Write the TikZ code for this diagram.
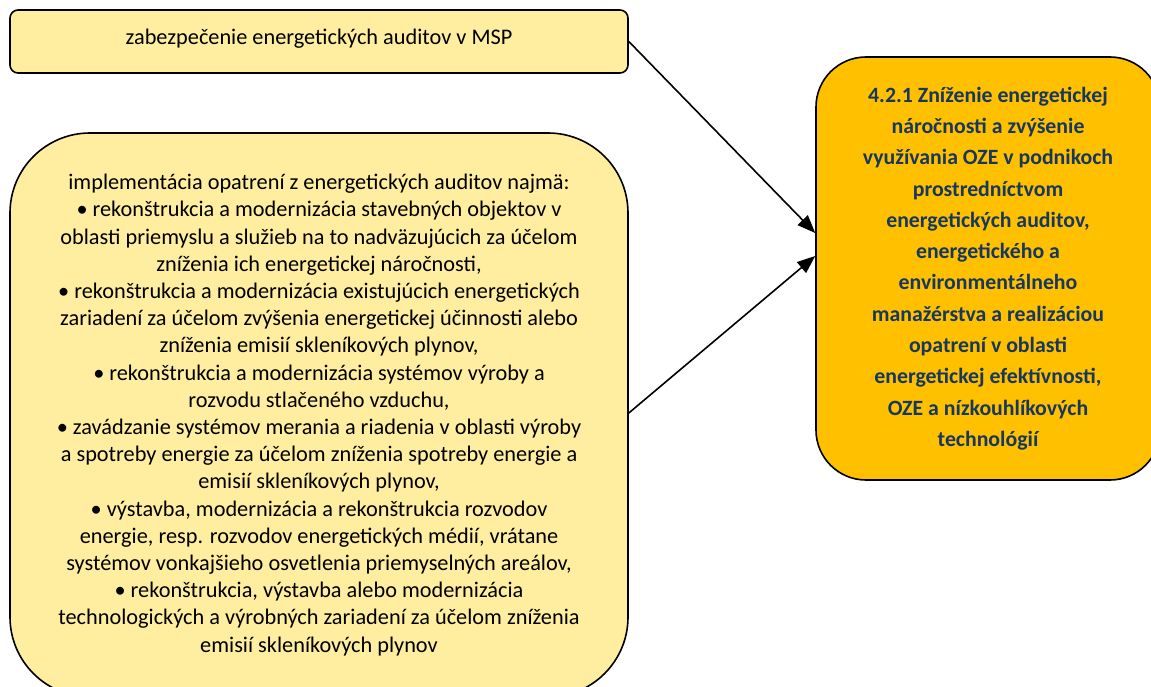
\documentclass[tikz,border=0pt]{standalone}
\usepackage{fontspec}
\setmainfont{Carlito}
\usetikzlibrary{arrows.meta}
\definecolor{paleyellow}{HTML}{FFEDA0}
\definecolor{goldfill}{HTML}{FFC000}
\definecolor{navytext}{HTML}{17375E}
\begin{document}
\begin{tikzpicture}[x=1pt,y=-1pt,
  box/.style={draw=black, line width=1.6pt, align=center, inner sep=0pt},
  inputbox/.style={box, fill=paleyellow, font=\fontsize{22.3}{27.2}\selectfont},
  goalbox/.style={box, fill=goldfill, text=navytext,
    font=\bfseries\fontsize{21.8}{31.3}\selectfont, rounded corners=50pt},
  arr/.style={line width=1.6pt, -{Triangle[length=18pt,width=14pt]}}]
\useasboundingbox (0,0) rectangle (1151,687);
\begin{scope}
\clip (0,0) rectangle (1151,687);

% inputs
\node[inputbox, rounded corners=8pt, minimum width=618pt, minimum height=63pt,
      text depth=9pt]
  (audit) at (319,41.5) {zabezpečenie energetických auditov v MSP};

\node[inputbox, rounded corners=80pt, minimum width=618pt, minimum height=564pt]
  (measures) at (319,415) {implementácia opatrení z energetických auditov najmä:\\
• rekonštrukcia a modernizácia stavebných objektov v\\
oblasti priemyslu a služieb na to nadväzujúcich za účelom\\
zníženia ich energetickej náročnosti,\\
• rekonštrukcia a modernizácia existujúcich energetických\\
zariadení za účelom zvýšenia energetickej účinnosti alebo\\
zníženia emisií skleníkových plynov,\\
• rekonštrukcia a modernizácia systémov výroby a\\
rozvodu stlačeného vzduchu,\\
• zavádzanie systémov merania a riadenia v oblasti výroby\\
a spotreby energie za účelom zníženia spotreby energie a\\
emisií skleníkových plynov,\\
• výstavba, modernizácia a rekonštrukcia rozvodov\\
energie, resp. rozvodov energetických médií, vrátane\\
systémov vonkajšieho osvetlenia priemyselných areálov,\\
• rekonštrukcia, výstavba alebo modernizácia\\
technologických a výrobných zariadení za účelom zníženia\\
emisií skleníkových plynov};

% goal
\node[goalbox, minimum width=344pt, minimum height=423pt]
  (goal) at (988,268.5) {4.2.1 Zníženie energetickej\\
náročnosti a zvýšenie\\
využívania OZE v podnikoch\\
prostredníctvom\\
energetických auditov,\\
energetického a\\
environmentálneho\\
manažérstva a realizáciou\\
opatrení v oblasti\\
energetickej efektívnosti,\\
OZE a nízkouhlíkových\\
technológií};

% connectors
\draw[arr] (audit.east) -- ([yshift=35.5pt]goal.west);
\draw[arr] ([yshift=2pt]measures.east) -- ([yshift=12.5pt]goal.west);
\end{scope}
\end{tikzpicture}
\end{document}
